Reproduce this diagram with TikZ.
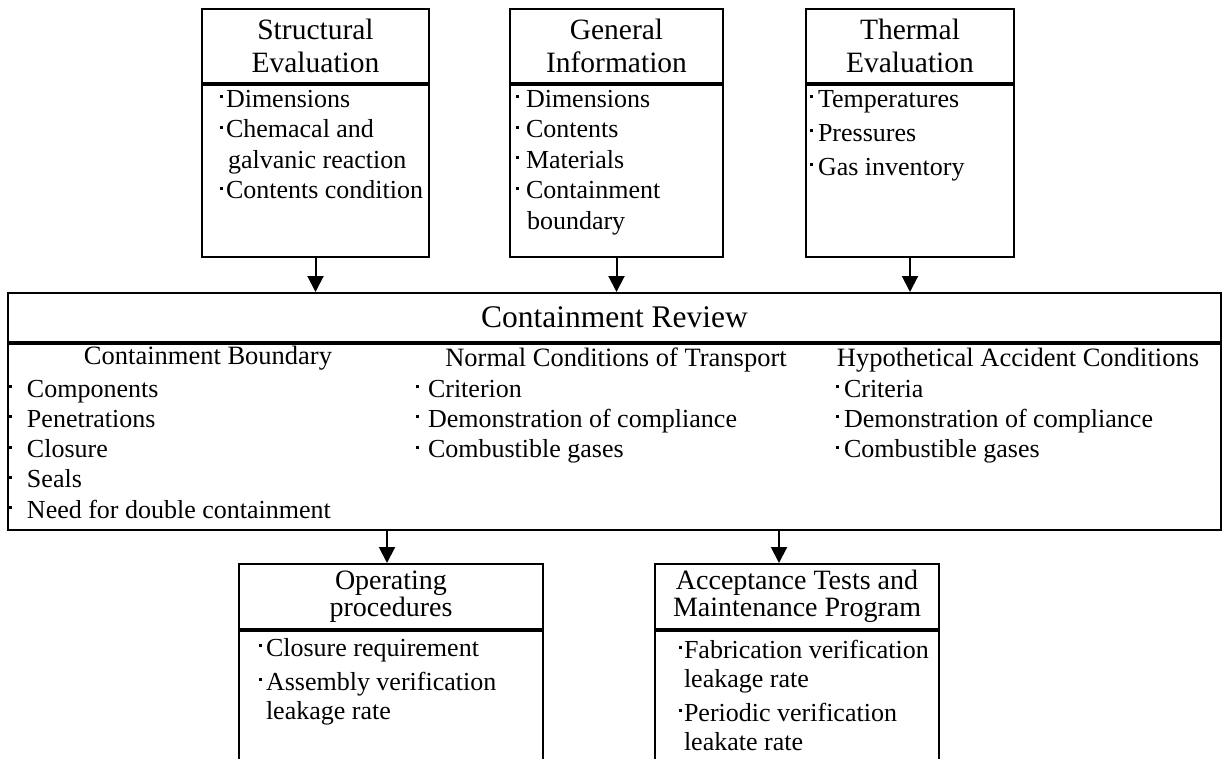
\documentclass[tikz,border=0pt]{standalone}
\usepackage{fontspec}
\setmainfont{Liberation Serif}
\usetikzlibrary{arrows.meta, positioning}

% small square bullet, optional arg = gap before the text
\newcommand{\bul}[1][4pt]{\rule[9pt]{3pt}{3pt}\hspace{#1}}

\begin{document}
\begin{tikzpicture}[x=1pt, y=-1pt, line width=2pt,
    head/.style={draw, anchor=north west, inner sep=0pt, align=center,
                 font=\fontsize{29.5}{33}\selectfont},
    body/.style={draw, inner sep=0pt},
    items/.style={anchor=north west, inner sep=0pt, align=left,
                  font=\fontsize{26}{30.5}\selectfont},
    sub/.style={anchor=base, inner sep=0pt, font=\fontsize{26.5}{30}\selectfont},
    arr/.style={-{Triangle[width=16pt,length=16pt]}}]

\useasboundingbox (0,0) rectangle (1222,758);
\clip (0,0) rectangle (1222,758);

% ── Upper row: inputs ───────────────────────────────────────
\node[head, minimum width=227pt, minimum height=74pt] (structH) at (201,8)
    {Structural\\Evaluation};
\node[body, minimum width=227pt, minimum height=172pt, below=0pt of structH] (structB) {};
\node[items] (structL) at (219,89)
    {\bul[3pt]Dimensions\\
     \bul[3pt]Chemacal and\\
     \hspace*{8pt}galvanic reaction\\
     \bul[3pt]Contents condition};

\node[head, minimum width=213pt, minimum height=74pt] (genH) at (509,8)
    {General\\Information};
\node[body, minimum width=213pt, minimum height=172pt, below=0pt of genH] (genB) {};
\node[items] (genL) at (515,89)
    {\bul[7pt]Dimensions\\
     \bul[7pt]Contents\\
     \bul[7pt]Materials\\
     \bul[7pt]Containment\\
     \hspace*{11pt}boundary};

\node[head, minimum width=208pt, minimum height=74pt] (thermH) at (805,8)
    {Thermal\\Evaluation};
\node[body, minimum width=208pt, minimum height=172pt, below=0pt of thermH] (thermB) {};
\node[items, font=\fontsize{26}{34}\selectfont] (thermL) at (809,89)
    {\bul[5pt]Temperatures\\
     \bul[5pt]Pressures\\
     \bul[5pt]Gas inventory};

% ── Containment review ──────────────────────────────────────
\node[head, minimum width=1213pt, minimum height=49pt,
      font=\fontsize{31.5}{34}\selectfont] (revH) at (7,292) {Containment Review};
\node[body, minimum width=1213pt, minimum height=186pt, below=0pt of revH] (revB) {};

\node[sub] (cbH)  at (208,364)  {Containment Boundary};
\node[sub] (nctH) at (616,366)  {Normal Conditions of Transport};
\node[sub] (hacH) at (1018,366) {Hypothetical Accident Conditions};

\node[items, font=\fontsize{26}{30.25}\selectfont] (cbL) at (8,379)
    {\bul[15pt]Components\\
     \bul[15pt]Penetrations\\
     \bul[15pt]Closure\\
     \bul[15pt]Seals\\
     \bul[15pt]Need for double containment};
\node[items, font=\fontsize{26}{30.25}\selectfont] (nctL) at (415,379)
    {\bul[9pt]Criterion\\
     \bul[9pt]Demonstration of compliance\\
     \bul[9pt]Combustible gases};
\node[items, font=\fontsize{26}{30.25}\selectfont] (hacL) at (835,379)
    {\bul[5pt]Criteria\\
     \bul[5pt]Demonstration of compliance\\
     \bul[5pt]Combustible gases};

% ── Lower row: outputs ──────────────────────────────────────
\node[head, minimum width=304pt, minimum height=65pt,
      font=\fontsize{28}{27}\selectfont] (operH) at (238,563) {Operating\\procedures};
\node[body, minimum width=304pt, minimum height=200pt, below=0pt of operH] (operB) {};
\node[items, font=\fontsize{26}{29}\selectfont] (operL) at (258,637)
    {\bul[4pt]Closure requirement\\[5pt]
     \bul[4pt]Assembly verification\\
     \hspace*{7pt}leakage rate};

\node[head, minimum width=284pt, minimum height=65pt,
      font=\fontsize{28}{27}\selectfont] (accH) at (654,563)
    {Acceptance Tests and\\Maintenance Program};
\node[body, minimum width=284pt, minimum height=200pt, below=0pt of accH] (accB) {};
\node[items, font=\fontsize{26}{29}\selectfont] (accL) at (678,639)
    {\bul[2pt]Fabrication verification\\
     \hspace*{5pt}leakage rate\\[5pt]
     \bul[2pt]Periodic verification\\
     \hspace*{5pt}leakate rate};

% ── Arrows ──────────────────────────────────────────────────
\draw[arr] (structB.south) -- (structB.south |- revH.north);
\draw[arr] (genB.south) -- (genB.south |- revH.north);
\draw[arr] (thermB.south) -- (thermB.south |- revH.north);
\draw[arr] ([xshift=-4pt]operH.north |- revB.south) -- ([xshift=-4pt]operH.north);
\draw[arr] ([xshift=-18pt]accH.north |- revB.south) -- ([xshift=-18pt]accH.north);

\end{tikzpicture}
\end{document}
